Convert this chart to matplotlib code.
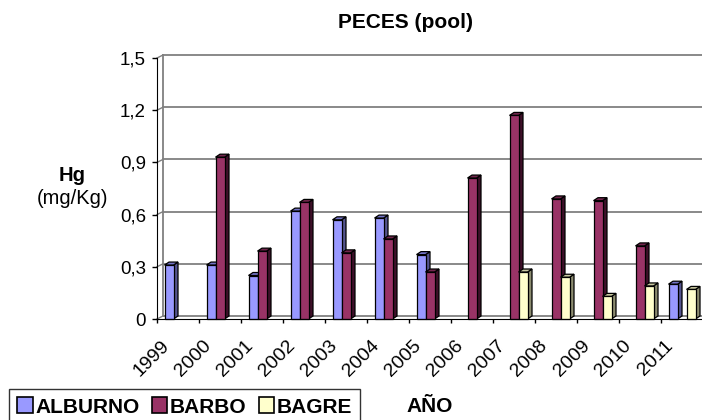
import matplotlib
matplotlib.use("Agg")
import matplotlib.pyplot as plt
from matplotlib.patches import Polygon, Rectangle, Patch
import numpy as np

plt.rcParams['font.family'] = ['Liberation Sans', 'DejaVu Sans']

years = ["1999", "2000", "2001", "2002", "2003", "2004", "2005",
         "2006", "2007", "2008", "2009", "2010", "2011"]
alburno = [0.31, 0.31, 0.25, 0.62, 0.57, 0.58, 0.37, None, None, None, None, None, 0.20]
barbo = [None, 0.93, 0.39, 0.67, 0.38, 0.46, 0.27, 0.81, 1.17, 0.69, 0.68, 0.42, None]
bagre = [None, None, None, None, None, None, None, None, 0.27, 0.24, 0.13, 0.19, 0.17]

series = [("ALBURNO", alburno, "#9999FF", "#7373C6", "#55558F"),
          ("BARBO", barbo, "#993366", "#73264D", "#3E1029"),
          ("BAGRE", bagre, "#FFFFCC", "#C8C8A0", "#8C8C70")]

W, H = 702, 420
fig = plt.figure(figsize=(7.02, 4.2), dpi=100)
# front plane of plot: x 157..703 px, y 58..319 px (from top)
ax = fig.add_axes([157 / W, (H - 319) / H, 546 / W, (319 - 58) / H])
ax.set_xlim(-0.5, 12.5)
ax.set_ylim(0, 1.5)

pxx = 546 / 13.0     # pixels per category
pxy = (319 - 58) / 1.5  # pixels per unit

# back wall offset
wdx, wdy = 6 / pxx, 3 / pxy
# bar depth
bdx, bdy = 4.5 / pxx, 3 / pxy

grid_c = "#808080"
yt = np.arange(0, 1.51, 0.3)
for v in yt:
    ax.plot([-0.5 + wdx, 13.5], [v + wdy, v + wdy], color=grid_c, lw=1.3,
            clip_on=False, zorder=1)
    ax.plot([-0.5, -0.5 + wdx], [v, v + wdy], color=grid_c, lw=1.0,
            clip_on=False, zorder=1)
ax.plot([-0.5 + wdx, -0.5 + wdx], [wdy, 1.5 + wdy], color=grid_c, lw=1.3,
        clip_on=False, zorder=1)

bw = 9 / pxx
start = 7.5 / pxx
for i in range(len(years)):
    for k, (name, vals, c_front, c_top, c_side) in enumerate(series):
        v = vals[i]
        if v is None:
            continue
        x0 = i - 0.5 + start + k * bw
        ax.add_patch(Polygon([(x0 + bw, 0), (x0 + bw + bdx, bdy),
                              (x0 + bw + bdx, v + bdy), (x0 + bw, v)],
                             closed=True, fc=c_side, ec="black", lw=0.9,
                             clip_on=False, zorder=3))
        ax.add_patch(Polygon([(x0, v), (x0 + bw, v), (x0 + bw + bdx, v + bdy),
                              (x0 + bdx, v + bdy)],
                             closed=True, fc=c_top, ec="black", lw=0.9,
                             clip_on=False, zorder=3))
        ax.add_patch(Rectangle((x0, 0), bw, v, fc=c_front, ec="black", lw=0.9,
                               clip_on=False, zorder=3))

for s in ["top", "right"]:
    ax.spines[s].set_visible(False)
ax.spines["left"].set_color("black")
ax.spines["bottom"].set_color("black")
ax.spines["left"].set_zorder(4)
ax.spines["bottom"].set_zorder(4)

ax.set_yticks(yt)
ax.set_yticklabels(["0", "0,3", "0,6", "0,9", "1,2", "1,5"], fontsize=13.5)
ax.tick_params(axis="y", length=3.6, width=1, pad=4.3)
ax.set_xticks(np.arange(-0.5, 13, 1))
ax.set_xticklabels([])
ax.tick_params(axis="x", length=3, width=1)

for i, yr in enumerate(years):
    ax.annotate(yr, xy=(i, 0), xytext=(-5, -18), textcoords="offset pixels",
                rotation=45, ha="right", va="top", fontsize=14,
                annotation_clip=False)

fig.text(406 / W, 1 - 23 / H, "PECES (pool)", fontsize=15, fontweight="bold",
         ha="center", va="center")
fig.text(72 / W, 1 - 175 / H, "Hg", fontsize=14.5, fontweight="bold",
         ha="center", va="center")
fig.text(72 / W, 1 - 198 / H, "(mg/Kg)", fontsize=14.5, ha="center", va="center")
fig.text(430 / W, 1 - 407 / H, "AÑO", fontsize=15, fontweight="bold",
         ha="center", va="center")

handles = [Patch(fc=s[2], ec="black", lw=1.2) for s in series]
leg = fig.legend(handles, [s[0] for s in series], loc="upper left",
                 bbox_to_anchor=(9 / W, 1 - 389 / H), ncol=3,
                 prop={"size": 15, "weight": "bold"}, frameon=True,
                 fancybox=False, edgecolor="black", borderpad=0.4,
                 handlelength=0.75, handleheight=0.8, handletextpad=0.1,
                 columnspacing=0.6, borderaxespad=0)
leg.get_frame().set_linewidth(1.0)

fig.savefig("out.png", dpi=100)
